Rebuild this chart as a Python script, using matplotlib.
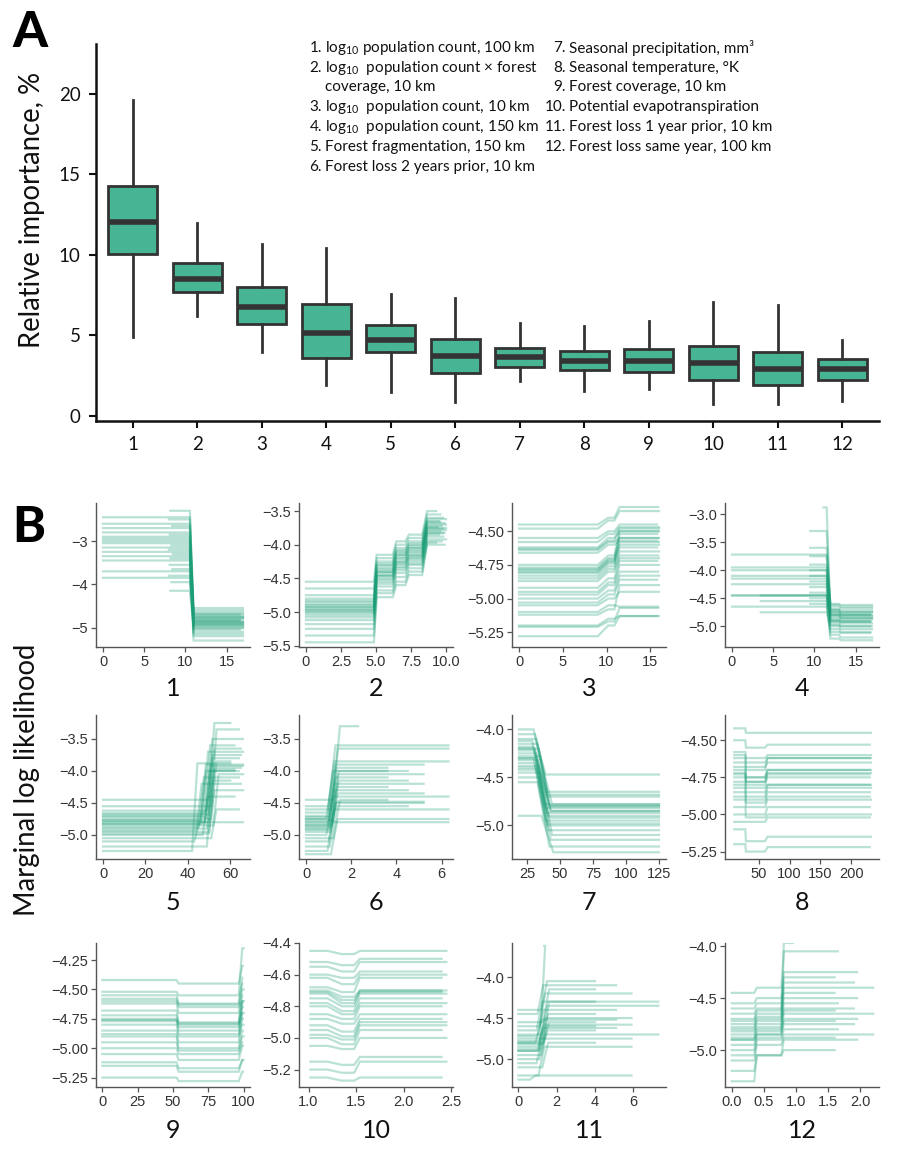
import matplotlib
matplotlib.use('Agg')
import matplotlib.pyplot as plt

plt.rcParams['font.family'] = ['Lato', 'DejaVu Sans']
plt.rcParams['mathtext.fontset'] = 'custom'
plt.rcParams['mathtext.rm'] = 'Lato'
plt.rcParams['mathtext.it'] = 'Lato:italic'
plt.rcParams['mathtext.bf'] = 'Lato:bold'

# ---------------- Panel A data ----------------
VARS = ['1', '2', '3', '4', '5', '6', '7', '8', '9', '10', '11', '12']
WHISK_LO = [4.9, 6.2, 3.95, 1.93, 1.5, 0.9, 2.2, 1.53, 1.7, 0.75, 0.75, 0.93]
Q1 = [10.05, 7.7, 5.7, 3.6, 4.0, 2.7, 3.07, 2.86, 2.73, 2.21, 1.9, 2.25]
MED = [12.05, 8.5, 6.75, 5.15, 4.72, 3.75, 3.67, 3.44, 3.39, 3.29, 2.92, 2.92]
Q3 = [14.3, 9.5, 8.0, 6.95, 5.65, 4.78, 4.25, 4.04, 4.14, 4.33, 4.0, 3.52]
WHISK_HI = [19.6, 12.0, 10.7, 10.45, 7.55, 7.35, 5.75, 5.6, 5.92, 7.1, 6.9, 4.72]
A_YTICKS = [0, 5, 10, 15, 20]

LEGEND_LEFT = [
    ('1.', r'log$_{10}$ population count, 100 km'),
    ('2.', r'log$_{10}$  population count × forest'),
    ('', 'coverage, 10 km'),
    ('3.', r'log$_{10}$  population count, 10 km'),
    ('4.', r'log$_{10}$  population count, 150 km'),
    ('5.', 'Forest fragmentation, 150 km'),
    ('6.', 'Forest loss 2 years prior, 10 km'),
]
LEGEND_RIGHT = [
    ('7.', 'Seasonal precipitation, mm³'),
    ('8.', 'Seasonal temperature, °K'),
    ('9.', 'Forest coverage, 10 km'),
    ('10.', 'Potential evapotranspiration'),
    ('11.', 'Forest loss 1 year prior, 10 km'),
    ('12.', 'Forest loss same year, 100 km'),
]

# ---------------- Panel B data ----------------
# Panel 1
P1_START = [0, 0, 0, 0, 0, 0, 0, 0, 0, 0, 0, 0, 0, 0,
            8.2, 8.0, 8.4, 8.1, 8.3, 8.0, 8.5, 8.2, 8.1, 8.4, 8.0, 8.3, 8.2]
P1_END = [17, 17, 17, 16.6, 17, 17, 17, 17, 16.6, 17, 17, 17, 17, 17,
          17, 17, 16.6, 17, 17, 17, 17, 17, 17, 16.6, 17, 17, 17]
P1_LEFT = [-2.45, -2.6, -2.7, -2.8, -2.9, -2.95, -3.0, -3.05, -3.15, -3.25, -3.35, -3.45, -3.7, -3.85,
           -2.3, -2.5, -2.65, -2.85, -3.1, -3.2, -3.3, -3.4, -3.55, -3.65, -3.8, -3.95, -4.15]
P1_RIGHT = [-4.55, -4.6, -4.65, -4.7, -4.72, -4.75, -4.78, -4.8, -4.82, -4.85, -4.87, -4.9, -4.92, -4.95,
            -4.97, -5.0, -5.05, -5.1, -5.15, -5.2, -5.3, -4.68, -4.76, -4.84, -4.88, -4.93, -5.02]
P1_BREAKS = [10.55]

# Panel 2
P2_LEVELS = [
    [-4.55, -4.15, -3.95, -3.85, -3.5], [-4.65, -4.2, -4.0, -3.9, -3.55],
    [-4.75, -4.25, -4.05, -3.95, -3.6], [-4.8, -4.3, -4.1, -4.0, -3.62],
    [-4.85, -4.32, -4.12, -4.02, -3.65], [-4.88, -4.35, -4.15, -4.05, -3.68],
    [-4.9, -4.37, -4.18, -4.08, -3.7], [-4.92, -4.4, -4.2, -4.1, -3.72],
    [-4.95, -4.42, -4.22, -4.12, -3.74], [-4.97, -4.45, -4.25, -4.15, -3.76],
    [-5.0, -4.47, -4.28, -4.18, -3.78], [-5.02, -4.5, -4.3, -4.2, -3.8],
    [-5.05, -4.52, -4.33, -4.22, -3.82], [-5.08, -4.55, -4.35, -4.25, -3.85],
    [-5.12, -4.58, -4.38, -4.28, -3.88], [-5.18, -4.62, -4.42, -4.3, -3.92],
    [-5.25, -4.68, -4.48, -4.35, -3.95], [-5.35, -4.72, -4.55, -4.4, -3.97],
    [-5.45, -4.78, -4.6, -4.45, -4.0], [-4.93, -4.4, -4.15, -4.05, -3.75],
    [-4.83, -4.28, -4.08, -3.98, -3.66], [-4.98, -4.46, -4.26, -4.16, -3.83],
]
P2_END = [9.3, 9.6, 9.8, 10.0, 9.5, 9.9, 10.0, 9.7, 9.4, 9.8, 10.0, 9.6, 9.9, 9.5, 9.8,
          10.0, 9.7, 9.3, 9.9, 10.0, 9.6, 9.8]
P2_BREAKS = [4.85, 6.2, 7.1, 8.3]

# Panel 3
P3_LEVELS = [
    [-4.45, -4.4, -4.32], [-4.48, -4.42, -4.35], [-4.55, -4.5, -4.45], [-4.58, -4.52, -4.47],
    [-4.62, -4.55, -4.5], [-4.64, -4.58, -4.55], [-4.66, -4.6, -4.57], [-4.75, -4.68, -4.5],
    [-4.77, -4.7, -4.55], [-4.79, -4.72, -4.6], [-4.81, -4.74, -4.62], [-4.83, -4.76, -4.65],
    [-4.85, -4.78, -4.68], [-4.87, -4.8, -4.7], [-4.92, -4.85, -4.72], [-4.95, -4.88, -4.75],
    [-4.97, -4.9, -4.8], [-5.0, -4.94, -4.83], [-5.03, -4.97, -4.86], [-5.05, -5.0, -4.95],
    [-5.1, -5.05, -5.06], [-5.12, -5.08, -4.9], [-5.2, -5.15, -5.13], [-5.28, -5.2, -5.13],
    [-5.21, -5.17, -5.07], [-4.8, -4.73, -4.58], [-4.78, -4.71, -4.52], [-4.63, -4.57, -4.48],
]
P3_BREAKS = [9.0, 10.9]

# Panel 4
P4_START = [0, 0, 0, 0, 0, 0, 0, 0, 0, 3.5, 3.5, 3.5,
            9.5, 9.5, 9.5, 9.5, 9.5, 9.5, 9.5, 9.5, 9.5, 9.5, 9.5, 11.1]
P4_LEVELS = [
    [-3.72, -4.62, -4.65], [-3.95, -4.7, -4.72], [-4.0, -4.75, -4.78], [-4.1, -4.8, -4.82],
    [-4.15, -4.85, -4.88], [-4.25, -4.9, -4.92], [-4.45, -4.72, -4.75], [-4.45, -4.8, -4.85],
    [-4.65, -4.95, -5.0], [-4.45, -4.78, -4.8], [-4.55, -5.0, -5.05], [-4.75, -5.05, -5.1],
    [-3.3, -4.65, -4.68], [-3.6, -4.7, -4.75], [-3.75, -4.75, -4.8], [-3.9, -4.6, -4.62],
    [-4.0, -4.82, -4.85], [-4.1, -4.88, -4.9], [-4.2, -4.92, -4.95], [-4.3, -4.98, -5.0],
    [-4.4, -5.1, -5.12], [-4.5, -5.15, -5.2], [-4.6, -5.22, -5.25], [-2.88, -4.9, -4.92],
]
P4_BREAKS = [11.5, 13.0]

# Panel 5
P5_LEFT = [-4.45, -4.55, -4.62, -4.66, -4.68, -4.7, -4.72, -4.75, -4.77, -4.8, -4.82, -4.85,
           -4.88, -4.9, -4.93, -4.95, -5.0, -5.05, -5.1, -5.18, -5.25, -4.78, -4.83, -4.98]
P5_RIGHT = [-3.25, -3.35, -3.5, -3.6, -3.65, -3.7, -3.8, -3.85, -3.9, -3.95, -4.0, -4.05,
            -4.1, -4.15, -4.2, -4.3, -4.4, -4.6, -4.8, -3.75, -3.88, -3.92, -4.0, -3.98]
P5_BREAK = [50, 51, 49, 48, 50, 47, 49, 51, 46, 50, 48, 52, 45, 49, 44, 50, 47, 51, 43, 49, 42, 48, 46, 50]
P5_END = [60, 64, 66, 62, 65, 66, 64, 60, 66, 65, 62, 66, 64, 60, 65, 66, 62, 64, 66, 65, 60, 66, 64, 62]

# Panel 6
P6_LEFT = [-4.45, -4.55, -4.6, -4.65, -4.7, -4.72, -4.75, -4.78, -4.8, -4.82, -4.85, -4.88,
           -4.9, -4.95, -5.0, -5.05, -5.1, -5.18, -5.25, -5.3, -4.75, -4.85, -4.92]
P6_RIGHT = [-3.3, -3.6, -3.65, -3.85, -3.9, -3.95, -4.0, -4.05, -4.1, -4.15, -4.2, -4.25,
            -4.3, -4.35, -4.4, -4.45, -4.5, -4.55, -4.6, -4.75, -4.8, -4.0, -4.48]
P6_BREAK = [1.2, 1.0, 1.1, 0.95, 1.0, 1.05, 0.9, 1.1, 1.0, 1.15, 0.95, 1.05,
            1.0, 1.1, 0.9, 1.2, 1.0, 1.05, 0.95, 1.1, 1.0, 1.15, 1.05]
P6_END = [2.3, 6.3, 6.3, 6.3, 5.2, 3.6, 4.5, 5.2, 3.6, 4.5, 5.2, 3.6,
          4.5, 5.2, 6.3, 3.6, 5.2, 4.5, 6.3, 6.3, 6.3, 3.6, 5.2]

# Panel 7
P7_LEFT = [-4.0, -4.05, -4.1, -4.12, -4.15, -4.18, -4.2, -4.22, -4.25, -4.28, -4.3,
           -4.32, -4.35, -4.38, -4.4, -4.42, -4.45, -4.5, -4.55, -4.9, -4.2, -4.3]
P7_RIGHT = [-4.47, -4.65, -4.68, -4.78, -4.8, -4.82, -4.85, -4.87, -4.9, -4.78, -4.95,
            -4.8, -5.0, -4.85, -5.05, -4.92, -5.1, -5.15, -5.22, -5.28, -4.7, -4.98]
P7_BREAK = [30, 31, 32, 29, 33, 30, 34, 31, 32, 35, 30, 33, 31, 34, 32, 33, 35, 34, 33, 36, 31, 32]

# Panel 8
P8_LEVELS = [
    [-4.42, -4.45, -4.45], [-4.5, -4.55, -4.53], [-4.58, -4.62, -4.6], [-4.6, -4.65, -4.62],
    [-4.65, -4.68, -4.65], [-4.7, -4.75, -4.7], [-4.72, -4.78, -4.72], [-4.75, -4.8, -4.75],
    [-4.78, -4.82, -4.8], [-4.8, -4.85, -4.8], [-4.85, -4.88, -4.82], [-4.88, -4.92, -4.88],
    [-4.9, -4.95, -4.9], [-4.95, -5.0, -4.95], [-5.0, -5.02, -5.0], [-5.05, -5.05, -5.02],
    [-5.1, -5.18, -5.15], [-5.2, -5.25, -5.22], [-4.68, -4.75, -4.7], [-4.82, -4.9, -4.85],
    [-4.62, -4.7, -4.62], [-4.73, -4.78, -4.73],
]
P8_BREAKS = [28, 60]

# Panel 9
P9_LEVELS = [
    [-4.42, -4.45, -4.3], [-4.52, -4.55, -4.15], [-4.55, -4.62, -4.4], [-4.58, -4.65, -4.6],
    [-4.62, -4.7, -4.5], [-4.68, -4.78, -4.55], [-4.72, -4.8, -4.65], [-4.75, -4.82, -4.7],
    [-4.77, -4.85, -4.62], [-4.8, -4.88, -4.75], [-4.85, -4.9, -4.8], [-4.88, -4.95, -4.7],
    [-4.9, -5.0, -4.85], [-4.95, -5.02, -4.9], [-5.0, -5.05, -4.95], [-5.05, -5.1, -4.98],
    [-5.12, -5.17, -5.1], [-5.15, -5.2, -5.1], [-5.25, -5.28, -5.2], [-4.76, -4.79, -4.6],
    [-4.6, -4.63, -4.45],
]
P9_BREAKS = [52.5, 96.5]

# Panel 10
P10_LEVELS = [
    [-4.45, -4.47, -4.45], [-4.52, -4.54, -4.5], [-4.55, -4.58, -4.52], [-4.6, -4.62, -4.58],
    [-4.62, -4.66, -4.6], [-4.68, -4.71, -4.62], [-4.7, -4.74, -4.7], [-4.72, -4.78, -4.7],
    [-4.75, -4.8, -4.72], [-4.78, -4.83, -4.75], [-4.8, -4.85, -4.78], [-4.85, -4.88, -4.8],
    [-4.88, -4.91, -4.85], [-4.92, -4.96, -4.88], [-4.95, -4.99, -4.9], [-5.0, -5.04, -4.95],
    [-5.05, -5.07, -5.0], [-5.15, -5.17, -5.12], [-5.2, -5.22, -5.15], [-5.25, -5.27, -5.25],
    [-4.98, -5.01, -4.92], [-4.71, -4.76, -4.71],
]
P10_BREAKS = [1.2, 1.48]

# Panel 11
P11_LEFT = [-4.4, -4.45, -4.55, -4.6, -4.65, -4.7, -4.72, -4.75, -4.78, -4.8, -4.82,
            -4.85, -4.88, -4.9, -4.95, -5.0, -5.05, -5.1, -5.2, -5.25, -4.9, -4.8]
P11_RIGHT = [-4.05, -4.1, -4.15, -4.2, -4.3, -4.35, -4.4, -4.45, -4.5, -4.52, -4.55,
             -4.58, -4.6, -4.62, -4.65, -4.7, -4.75, -4.8, -4.85, -5.2, -3.62, -4.3]
P11_BREAK = [1.2, 1.0, 1.3, 1.1, 0.95, 1.2, 1.0, 1.25, 1.1, 0.9, 1.3,
             1.05, 1.15, 1.0, 1.2, 1.1, 0.95, 1.25, 1.05, 0.6, 1.1, 1.3]
P11_END = [4.0, 5.1, 4.0, 5.9, 4.0, 7.3, 5.1, 4.0, 5.9, 5.1, 4.0,
           5.9, 4.0, 5.1, 4.0, 7.3, 5.9, 4.0, 5.9, 5.9, 1.35, 7.3]

# Panel 12
P12_LEVELS = [
    [-4.45, -4.4, -4.05], [-4.55, -4.5, -4.25], [-4.6, -4.55, -4.3], [-4.65, -4.6, -4.35],
    [-4.7, -4.62, -4.4], [-4.72, -4.65, -4.45], [-4.75, -4.68, -4.5], [-4.78, -4.7, -4.55],
    [-4.8, -4.72, -4.6], [-4.82, -4.75, -4.62], [-4.85, -4.78, -4.65], [-4.88, -4.8, -4.7],
    [-4.9, -4.82, -4.72], [-4.95, -4.85, -4.75], [-5.0, -4.88, -4.8], [-5.05, -4.9, -4.85],
    [-5.1, -4.95, -4.88], [-5.2, -5.05, -4.9], [-5.3, -5.05, -5.0], [-4.9, -4.85, -3.97],
]
P12_END = [1.65, 1.95, 1.6, 1.9, 2.2, 1.6, 1.95, 1.65, 1.9, 1.6, 2.2, 1.95, 1.6, 1.9,
           1.65, 2.2, 1.6, 1.95, 1.6, 0.95]
P12_BREAKS = [0.35, 0.77]

# tick definitions
B_XTICKS = [
    ([0, 5, 10, 15], ['0', '5', '10', '15']),
    ([0, 2.5, 5, 7.5, 10], ['0', '2.5', '5.0', '7.5', '10.0']),
    ([0, 5, 10, 15], ['0', '5', '10', '15']),
    ([0, 5, 10, 15], ['0', '5', '10', '15']),
    ([0, 20, 40, 60], ['0', '20', '40', '60']),
    ([0, 2, 4, 6], ['0', '2', '4', '6']),
    ([25, 50, 75, 100, 125], ['25', '50', '75', '100', '125']),
    ([50, 100, 150, 200], ['50', '100', '150', '200']),
    ([0, 25, 50, 75, 100], ['0', '25', '50', '75', '100']),
    ([1.0, 1.5, 2.0, 2.5], ['1.0', '1.5', '2.0', '2.5']),
    ([0, 2, 4, 6], ['0', '2', '4', '6']),
    ([0, 0.5, 1.0, 1.5, 2.0], ['0.0', '0.5', '1.0', '1.5', '2.0']),
]
B_YTICKS = [
    ([-3, -4, -5], ['−3', '−4', '−5']),
    ([-3.5, -4.0, -4.5, -5.0, -5.5], ['−3.5', '−4.0', '−4.5', '−5.0', '−5.5']),
    ([-4.5, -4.75, -5.0, -5.25], ['−4.50', '−4.75', '−5.00', '−5.25']),
    ([-3.0, -3.5, -4.0, -4.5, -5.0], ['−3.0', '−3.5', '−4.0', '−4.5', '−5.0']),
    ([-3.5, -4.0, -4.5, -5.0], ['−3.5', '−4.0', '−4.5', '−5.0']),
    ([-3.5, -4.0, -4.5, -5.0], ['−3.5', '−4.0', '−4.5', '−5.0']),
    ([-4.0, -4.5, -5.0], ['−4.0', '−4.5', '−5.0']),
    ([-4.5, -4.75, -5.0, -5.25], ['−4.50', '−4.75', '−5.00', '−5.25']),
    ([-4.25, -4.5, -4.75, -5.0, -5.25], ['−4.25', '−4.50', '−4.75', '−5.00', '−5.25']),
    ([-4.4, -4.6, -4.8, -5.0, -5.2], ['−4.4', '−4.6', '−4.8', '−5.0', '−5.2']),
    ([-4.0, -4.5, -5.0], ['−4.0', '−4.5', '−5.0']),
    ([-4.0, -4.5, -5.0], ['−4.0', '−4.5', '−5.0']),
]

# ---------------- layout / style ----------------
W, H = 900, 1155
BOX_COLOR = '#47b593'
LINE_COLOR = '#1b9e77'


def fx(px):
    return px / W


def fy(py):
    return 1 - py / H


fig = plt.figure(figsize=(9, 11.55), dpi=100)

# ---- Panel A ----
axA = fig.add_axes([fx(96), fy(421), fx(879) - fx(96), fy(44) - fy(421)])
stats = []
for i in range(len(VARS)):
    stats.append(dict(med=MED[i], q1=Q1[i], q3=Q3[i], whislo=WHISK_LO[i],
                      whishi=WHISK_HI[i], fliers=[], label=VARS[i]))
axA.bxp(stats, positions=list(range(1, len(VARS) + 1)), widths=0.76, patch_artist=True,
        showfliers=False, showcaps=False,
        boxprops=dict(facecolor=BOX_COLOR, edgecolor='#333333', linewidth=2.0),
        medianprops=dict(color='#333333', linewidth=4.0, solid_capstyle='butt'),
        whiskerprops=dict(color='#333333', linewidth=2.0))
axA.set_xlim(0.43, 12.57)
axA.set_ylim(-0.31, 23.1)
axA.set_yticks(A_YTICKS)
axA.set_yticklabels([str(t) for t in A_YTICKS])
for s in ['top', 'right']:
    axA.spines[s].set_visible(False)
for s in ['left', 'bottom']:
    axA.spines[s].set_linewidth(1.8)
    axA.spines[s].set_color('#111111')
axA.tick_params(axis='both', length=5, width=1.5, color='#111111', labelsize=13.5,
                labelcolor='#111111', pad=6)
fig.text(fx(32), fy(210), 'Relative importance, %', rotation=90, ha='center', va='center',
         fontsize=19.8, color='#111111')
fig.text(fx(12), fy(10), 'A', ha='left', va='top', fontsize=36, fontweight='black')

# legend text
line_y = [48, 68, 87, 107, 127, 147, 167]
for (num, txt), y in zip(LEGEND_LEFT, line_y):
    if num:
        fig.text(fx(322), fy(y), num, ha='right', va='center', fontsize=11, color='#111111')
    fig.text(fx(325), fy(y), txt, ha='left', va='center', fontsize=11, color='#111111')
for (num, txt), y in zip(LEGEND_RIGHT, line_y):
    fig.text(fx(566), fy(y), num, ha='right', va='center', fontsize=11, color='#111111')
    fig.text(fx(569), fy(y), txt, ha='left', va='center', fontsize=11, color='#111111')

# ---- Panel B ----
col_left = [96, 299, 512, 725]
row_top = [503, 715, 943]
pw, ph = 154, 144

XLIMS = [(-0.85, 17.85), (-0.5, 10.5), (-0.8, 16.8), (-0.85, 17.85),
         (-3.3, 69.3), (-0.31, 6.5), (13.7, 130.3), (-5, 245),
         (-4.5, 104.5), (0.9, 2.52), (-0.33, 7.7), (-0.105, 2.29)]
YLIMS = [(-5.45, -2.12), (-5.52, -3.38), (-5.36, -4.29), (-5.37, -2.8),
         (-5.375, -3.125), (-5.375, -3.125), (-5.35, -3.85), (-5.30, -4.33),
         (-5.33, -4.105), (-5.31, -4.406), (-5.34, -3.585), (-5.355, -3.97)]


def step_curve(x0, x1, breaks, widths, levels):
    xs = [x0]
    ys = [levels[0]]
    for b, w, lo, hi in zip(breaks, widths, levels[:-1], levels[1:]):
        if b + w <= x0:
            ys[0] = hi
            continue
        xs += [max(b, x0), b + w]
        ys += [lo, hi]
    xs.append(x1)
    ys.append(levels[-1])
    return xs, ys


def n(lst):
    return len(lst)


panels = []
# (starts, ends, per-curve breaks, widths, levels)
panels.append((P1_START, P1_END, [P1_BREAKS] * n(P1_LEFT), [0.45],
               [list(p) for p in zip(P1_LEFT, P1_RIGHT)]))
panels.append(([0] * n(P2_LEVELS), P2_END, [P2_BREAKS] * n(P2_LEVELS), [0.2, 0.25, 0.25, 0.35],
               P2_LEVELS))
panels.append(([0] * n(P3_LEVELS), [15.9, 16.0, 15.8, 16.0] * 7, [P3_BREAKS] * n(P3_LEVELS), [1.2, 0.6],
               P3_LEVELS))
panels.append((P4_START, [17, 17, 16.8] * 8, [P4_BREAKS] * n(P4_LEVELS), [0.45, 0.2], P4_LEVELS))
panels.append(([0] * n(P5_LEFT), P5_END, [[b] for b in P5_BREAK], [2.5],
               [list(p) for p in zip(P5_LEFT, P5_RIGHT)]))
panels.append(([0] * n(P6_LEFT), P6_END, [[b] for b in P6_BREAK], [0.3],
               [list(p) for p in zip(P6_LEFT, P6_RIGHT)]))
panels.append(([19] * n(P7_LEFT), [125] * n(P7_LEFT), [[b] for b in P7_BREAK], [9],
               [list(p) for p in zip(P7_LEFT, P7_RIGHT)]))
panels.append(([10] * n(P8_LEVELS), [232, 230] * 11, [P8_BREAKS] * n(P8_LEVELS), [1.0, 4],
               P8_LEVELS))
panels.append(([0] * n(P9_LEVELS), [99.5, 100, 99] * 7, [P9_BREAKS] * n(P9_LEVELS), [1.5, 2.5],
               P9_LEVELS))
panels.append(([1.02] * n(P10_LEVELS), [2.45, 2.4] * 11, [P10_BREAKS] * n(P10_LEVELS),
               [0.15, 0.06], P10_LEVELS))
panels.append(([0] * n(P11_LEFT), P11_END, [[b] for b in P11_BREAK], [0.3],
               [list(p) for p in zip(P11_LEFT, P11_RIGHT)]))
panels.append(([0] * n(P12_LEVELS), P12_END, [P12_BREAKS] * n(P12_LEVELS), [0.04, 0.04],
               P12_LEVELS))

for k in range(12):
    r, c = divmod(k, 4)
    left, top = col_left[c], row_top[r]
    ax = fig.add_axes([fx(left), fy(top + ph), fx(pw), ph / H])
    starts, ends, brks, widths, levels = panels[k]
    for i, lv in enumerate(levels):
        xs, ys = step_curve(starts[i], ends[i], brks[i], widths, lv)
        ax.plot(xs, ys, color=LINE_COLOR, alpha=0.3, lw=1.6, solid_joinstyle='miter')
    ax.set_xlim(*XLIMS[k])
    ax.set_ylim(*YLIMS[k])
    xt, xl = B_XTICKS[k]
    yt, yl = B_YTICKS[k]
    ax.set_xticks(xt, xl, fontfamily='Liberation Sans', fontsize=10.5, color='#333333')
    ax.set_yticks(yt, yl, fontfamily='Liberation Sans', fontsize=10.5, color='#333333')
    for s in ['top', 'right']:
        ax.spines[s].set_visible(False)
    for s in ['left', 'bottom']:
        ax.spines[s].set_color('#555555')
        ax.spines[s].set_linewidth(1.0)
    ax.tick_params(axis='both', length=3.5, width=0.9, color='#555555', pad=2)
    ax.set_facecolor('none')
    title_y = [688, 903, 1130][r]
    fig.text(fx(left + pw / 2), fy(title_y), str(k + 1), ha='center', va='center',
             fontsize=18, color='#111111')

fig.text(fx(12), fy(505), 'B', ha='left', va='top', fontsize=36, fontweight='black')
fig.text(fx(27), fy(780), 'Marginal log likelihood', rotation=90, ha='center', va='center',
         fontsize=19.8, color='#111111')

fig.savefig('out.png', dpi=100)
